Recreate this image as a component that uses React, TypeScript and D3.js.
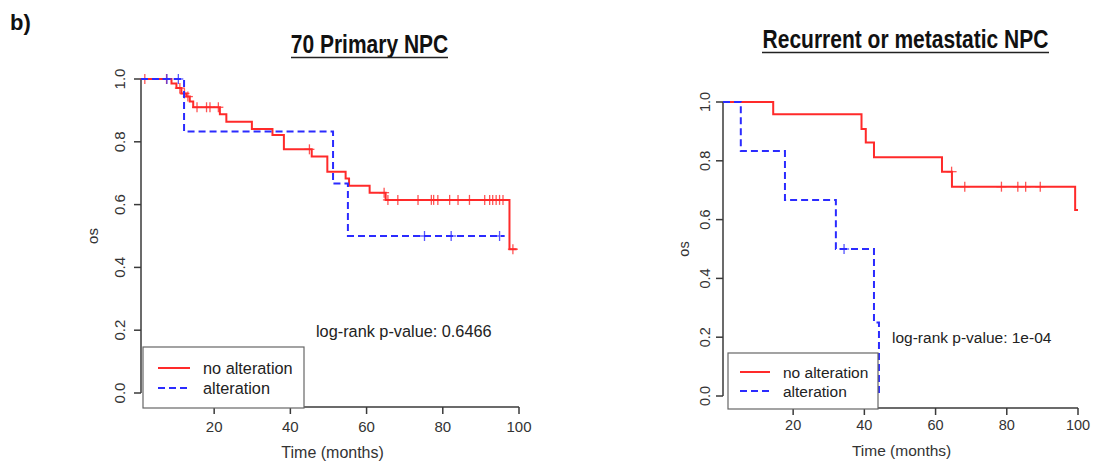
import React from "react";
import * as d3 from "d3";

// ---------- DATA ----------
// Left panel: 70 Primary NPC
const leftNoAltTimes = [0, 8.8, 10.1, 11.4, 12.7, 13.6, 14.5, 21.5, 23.2, 29.9, 35.3, 38.3, 45.6, 49.7, 54.5, 55.4, 60.8, 65.0, 97.5];
const leftNoAltSurv = [1.0, 0.986, 0.971, 0.954, 0.944, 0.928, 0.91, 0.888, 0.864, 0.841, 0.822, 0.776, 0.753, 0.705, 0.683, 0.66, 0.638, 0.615, 0.458];
const leftNoAltEnd = 99.4;
const leftNoAltCensor = [1.8, 7.5, 11.0, 12.2, 13.1, 15.5, 18.0, 18.9, 21.1, 45.0, 64.6, 65.6, 68.2, 73.5, 77.0, 77.6, 78.7, 81.8, 84.0, 87.0, 91.0, 92.3, 93.1, 94.0, 94.9, 95.8, 98.4];

const leftAltTimes = [0, 12.1, 51.2, 55.1];
const leftAltSurv = [1.0, 0.833, 0.667, 0.5];
const leftAltEnd = 96.2;
const leftAltCensor = [7.6, 10.6, 75.2, 82.2, 94.9];

// Right panel: Recurrent or metastatic NPC
const rightNoAltTimes = [0, 14.4, 39.2, 40.4, 42.7, 61.8, 64.6, 99.2];
const rightNoAltSurv = [1.0, 0.958, 0.908, 0.862, 0.812, 0.763, 0.712, 0.633];
const rightNoAltEnd = 100.4;
const rightNoAltCensor = [64.5, 68.2, 78.5, 83.1, 85.3, 89.4];

const rightAltTimes = [0, 5.3, 17.7, 32.0, 42.7, 44.1];
const rightAltSurv = [1.0, 0.833, 0.667, 0.5, 0.25, 0.0];
const rightAltEnd = 44.1;
const rightAltCensor = [34.3];

const xTicks = [20, 40, 60, 80, 100];
const yTicks = [0, 0.2, 0.4, 0.6, 0.8, 1.0];
const legendLabels = ["no alteration", "alteration"];
const titles = ["70 Primary NPC", "Recurrent or metastatic NPC"];
const pValues = ["log-rank p-value: 0.6466", "log-rank p-value: 1e-04"];

const RED = "#ff2a2a";
const BLUE = "#2b2bff";
const AXIS = "#3a3a3a";
const FONT = "'Liberation Sans', Arial, sans-serif";

type Series = { times: number[]; surv: number[]; end: number; censor: number[] };

type PanelCfg = {
  title: string;
  titleX: number[]; // start, end
  titleBase: number;
  xDomain: [number, number];
  xRange: [number, number];
  yRange: [number, number];
  xAxisY: number;
  tickFont: number;
  yLabelX: number;
  osX: number;
  xLabelY: number;
  tickLabelY: number;
  pval: string;
  pX: number;
  pY: number;
  pW: number;
  pFont: number;
  legend: { x0: number; x1: number; y0: number; y1: number; lx0: number; lx1: number; tx: number; ty: number[]; font: number };
  red: Series;
  blue: Series;
};

function stepPath(s: Series, x: d3.ScaleLinear<number, number>, y: d3.ScaleLinear<number, number>) {
  const pts: [number, number][] = s.times.map((t, i) => [t, s.surv[i]]);
  pts.push([s.end, s.surv[s.surv.length - 1]]);
  const line = d3
    .line<[number, number]>()
    .x((d) => x(d[0]))
    .y((d) => y(d[1]))
    .curve(d3.curveStepAfter);
  return line(pts) || "";
}

function survAt(s: Series, t: number) {
  let v = s.surv[0];
  for (let i = 0; i < s.times.length; i++) if (s.times[i] <= t) v = s.surv[i];
  return v;
}

function Panel({ cfg }: { cfg: PanelCfg }) {
  const x = d3.scaleLinear().domain(cfg.xDomain).range(cfg.xRange).clamp(true);
  const y = d3.scaleLinear().domain([0, 1]).range(cfg.yRange);
  const axisX = x(cfg.xDomain[0]);
  const arm = 5;
  const series: [Series, string, string | undefined][] = [
    [cfg.red, RED, undefined],
    [cfg.blue, BLUE, "7,4"],
  ];
  const lg = cfg.legend;
  const titleMid = (cfg.titleX[0] + cfg.titleX[1]) / 2;
  return (
    <g fontFamily={FONT}>
      {/* title (condensed bold) */}
      <g transform={`translate(${titleMid},${cfg.titleBase}) scale(0.84,1)`}>
        <text x={0} y={0} fontSize={25} fontWeight="bold" textAnchor="middle" fill="#111">
          {cfg.title}
        </text>
      </g>
      <line x1={cfg.titleX[0]} x2={cfg.titleX[1]} y1={cfg.titleBase + 4.5} y2={cfg.titleBase + 4.5} stroke="#222" strokeWidth={1.6} />

      {/* y axis */}
      <line x1={axisX} x2={axisX} y1={y(0)} y2={y(1)} stroke={AXIS} strokeWidth={1.5} />
      {yTicks.map((t) => (
        <g key={t}>
          <line x1={axisX - 7} x2={axisX} y1={y(t)} y2={y(t)} stroke={AXIS} strokeWidth={1.5} />
          <text
            transform={`translate(${cfg.yLabelX},${y(t)}) rotate(-90)`}
            textAnchor="middle"
            dominantBaseline="central"
            fontSize={cfg.tickFont}
            fill="#333"
          >
            {t.toFixed(1)}
          </text>
        </g>
      ))}
      <text
        transform={`translate(${cfg.osX},${(y(0) + y(1)) / 2}) rotate(-90)`}
        textAnchor="middle"
        dominantBaseline="central"
        fontSize={cfg.tickFont}
        fill="#333"
      >
        os
      </text>

      {/* x axis */}
      <line x1={x(xTicks[0])} x2={x(xTicks[xTicks.length - 1])} y1={cfg.xAxisY} y2={cfg.xAxisY} stroke={AXIS} strokeWidth={1.5} />
      {xTicks.map((t) => (
        <g key={t}>
          <line x1={x(t)} x2={x(t)} y1={cfg.xAxisY} y2={cfg.xAxisY + 7} stroke={AXIS} strokeWidth={1.5} />
          <text x={x(t)} y={cfg.tickLabelY} textAnchor="middle" dominantBaseline="central" fontSize={cfg.tickFont} fill="#333">
            {t}
          </text>
        </g>
      ))}
      <text
        x={(x(xTicks[0]) + x(xTicks[xTicks.length - 1])) / 2 - 34}
        y={cfg.xLabelY}
        textAnchor="middle"
        dominantBaseline="central"
        fontSize={cfg.tickFont + 1}
        fill="#333"
      >
        Time (months)
      </text>

      {/* curves */}
      {series.map(([s, c, dash], i) => (
        <g key={i}>
          <path d={stepPath(s, x, y)} fill="none" stroke={c} strokeWidth={2} strokeDasharray={dash} />
          {s.censor.map((t, j) => {
            const cx = x(t);
            const cy = y(survAt(s, t));
            return (
              <g key={j} stroke={c} strokeWidth={1.3} opacity={0.8}>
                <line x1={cx - arm} x2={cx + arm} y1={cy} y2={cy} />
                <line x1={cx} x2={cx} y1={cy - arm} y2={cy + arm} />
              </g>
            );
          })}
        </g>
      ))}

      {/* p-value */}
      <text
        x={cfg.pX}
        y={cfg.pY}
        dominantBaseline="central"
        fontSize={cfg.pFont}
        fill="#222"
      >
        {cfg.pval}
      </text>

      {/* legend */}
      <rect x={lg.x0} y={lg.y0} width={lg.x1 - lg.x0} height={lg.y1 - lg.y0} fill="white" stroke="#666" strokeWidth={1.2} />
      {legendLabels.map((lab, i) => (
        <g key={lab}>
          <line
            x1={lg.lx0}
            x2={lg.lx1}
            y1={lg.ty[i]}
            y2={lg.ty[i]}
            stroke={i === 0 ? RED : BLUE}
            strokeWidth={2}
            strokeDasharray={i === 0 ? undefined : "7,4"}
          />
          <text x={lg.tx} y={lg.ty[i]} dominantBaseline="central" fontSize={lg.font} fill="#222">
            {lab}
          </text>
        </g>
      ))}
    </g>
  );
}

const leftCfg: PanelCfg = {
  title: titles[0],
  titleX: [291, 448],
  titleBase: 53,
  xDomain: [0.8, 100],
  xRange: [141, 519],
  yRange: [393, 79],
  xAxisY: 407,
  tickFont: 15,
  yLabelX: 119,
  osX: 92,
  xLabelY: 452,
  tickLabelY: 426,
  pval: pValues[0],
  pX: 316,
  pY: 331,
  pW: 177,
  pFont: 16.3,
  legend: { x0: 143, x1: 304, y0: 347, y1: 408, lx0: 158, lx1: 190, tx: 203, ty: [368, 388], font: 16.3 },
  red: { times: leftNoAltTimes, surv: leftNoAltSurv, end: leftNoAltEnd, censor: leftNoAltCensor },
  blue: { times: leftAltTimes, surv: leftAltSurv, end: leftAltEnd, censor: leftAltCensor },
};

const rightCfg: PanelCfg = {
  title: titles[1],
  titleX: [762, 1049],
  titleBase: 48,
  xDomain: [0.3, 100],
  xRange: [723, 1078],
  yRange: [396, 102],
  xAxisY: 408,
  tickFont: 14.5,
  yLabelX: 705,
  osX: 684,
  xLabelY: 450,
  tickLabelY: 425,
  pval: pValues[1],
  pX: 892,
  pY: 337,
  pW: 159,
  pFont: 15.5,
  legend: { x0: 728, x1: 878, y0: 353, y1: 409, lx0: 740, lx1: 770, tx: 783, ty: [372, 391], font: 15.5 },
  red: { times: rightNoAltTimes, surv: rightNoAltSurv, end: rightNoAltEnd, censor: rightNoAltCensor },
  blue: { times: rightAltTimes, surv: rightAltSurv, end: rightAltEnd, censor: rightAltCensor },
};

export default function App() {
  return (
    <div style={{ position: "absolute", left: 0, top: 0 }}>
      <svg width={1093} height={466} style={{ display: "block", background: "white" }}>
        <text x={10} y={30} fontFamily={FONT} fontWeight="bold" fontSize={22} fill="#111">
          b)
        </text>
        <Panel cfg={leftCfg} />
        <Panel cfg={rightCfg} />
      </svg>
    </div>
  );
}
